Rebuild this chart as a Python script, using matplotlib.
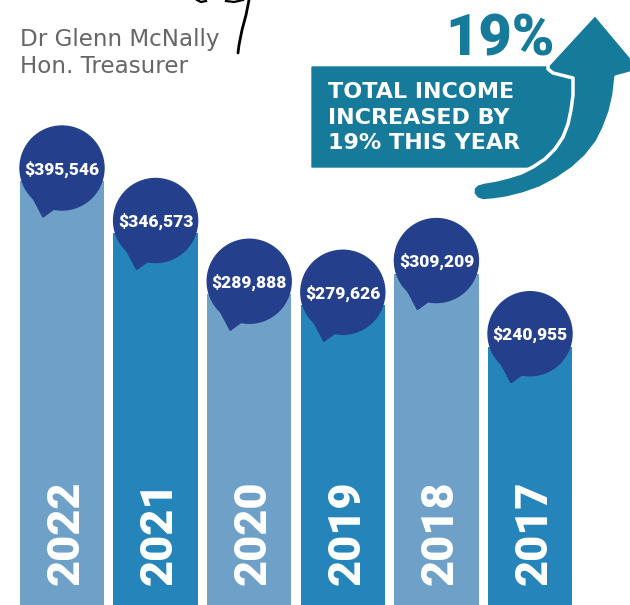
import matplotlib.pyplot as plt
from matplotlib.patches import Circle, Polygon

W, H = 630, 605

years = ["2022", "2021", "2020", "2019", "2018", "2017"]
income = [395546, 346573, 289888, 279626, 309209, 240955]
bar_colors = ["#6fa0c8", "#2585ba", "#6fa0c8", "#2585ba", "#6fa0c8", "#2585ba"]
name_lines = ["Dr Glenn McNally", "Hon. Treasurer"]
callout_lines = ["TOTAL INCOME", "INCREASED BY", "19% THIS YEAR"]
growth_label = "19%"

TEAL = "#167a9a"
NAVY = "#243f8c"
BOLD = ["Roboto", "DejaVu Sans"]

fig = plt.figure(figsize=(W / 100, H / 100), dpi=100)

# bars: data axes spanning the whole figure
ax = fig.add_axes([0, 0, 1, 1])
x = list(range(len(years)))
ax.bar(x, income, width=0.9, color=bar_colors, zorder=1)
ax.set_xlim(-0.6624, 6.068)
ax.set_ylim(0, 564400)
ax.axis("off")

# overlay in pixel coords (y down) for bubbles and decorations
ov = fig.add_axes([0, 0, 1, 1], facecolor="none")
ov.set_xlim(0, W)
ov.set_ylim(H, 0)
ov.axis("off")

R = 42
for i, (yr, val) in enumerate(zip(years, income)):
    dx, dy = ax.transData.transform((i, val))
    cx, top = dx, H - dy
    cy = top - 13
    # speech bubble tail
    ov.add_patch(Polygon([(cx - 29, cy + 30), (cx - 19, cy + 49), (cx - 8, cy + 41)],
                         closed=True, color=NAVY, zorder=3))
    ov.add_patch(Circle((cx, cy), R, color=NAVY, zorder=3))
    ov.text(cx, cy + 1, f"${val:,}", color="white", fontsize=12.5, fontweight="heavy",
            family=BOLD, ha="center", va="center", zorder=4)
    # year label, rotated, reading upwards
    ov.text(cx + 16.5, 585, yr, color="white", fontsize=32.5, fontweight="heavy",
            family=BOLD, rotation=90, rotation_mode="anchor",
            ha="left", va="baseline", zorder=4)

# name / title
for k, line in enumerate(name_lines):
    ov.text(20, 46 + 27 * k, line, color="#666666", fontsize=16.6,
            family="DejaVu Sans", ha="left", va="baseline")

# signature squiggle
ov.plot([249, 246, 242, 239, 238], [0, 15, 30, 45, 53], color="black", lw=2,
        solid_capstyle="round")
ov.plot([197, 201, 206], [0, 2, 1], color="black", lw=1.6)
ov.plot([226, 234, 243], [1, 2, 0], color="black", lw=1.6)

# callout box (right end tucked under the arrow)
ov.add_patch(Polygon([(312, 67), (580, 67), (580, 140), (568, 167), (312, 167)],
                     closed=True, color=TEAL, zorder=2))
for k, line in enumerate(callout_lines):
    ov.text(328, 98 + 25.5 * k, line, color="white", fontsize=16, fontweight="bold",
            family="DejaVu Sans", ha="left", va="baseline", zorder=5)

ov.text(445, 55, growth_label, color=TEAL, fontsize=41.5, fontweight="heavy",
        family=BOLD, ha="left", va="baseline")

# curved arrow
arrow = [(595, 14), (642, 70), (616, 77), (614, 95), (610, 112), (604, 128),
         (597, 142), (586, 156), (573, 168), (557, 179), (540, 188), (523, 194),
         (507, 198), (494, 200), (483, 201), (477, 199), (473, 194), (473, 188),
         (477, 184), (484, 182), (496, 180), (508, 177), (521, 173), (533, 167),
         (545, 159), (555, 149), (563, 137), (568, 124), (571, 110), (573, 95),
         (573, 78), (553, 73), (548, 69), (548, 65)]
ov.add_patch(Polygon(arrow, closed=True, facecolor=TEAL, edgecolor="white",
                     lw=2.5, joinstyle="round", zorder=6))

fig.savefig("out.png", dpi=100)
